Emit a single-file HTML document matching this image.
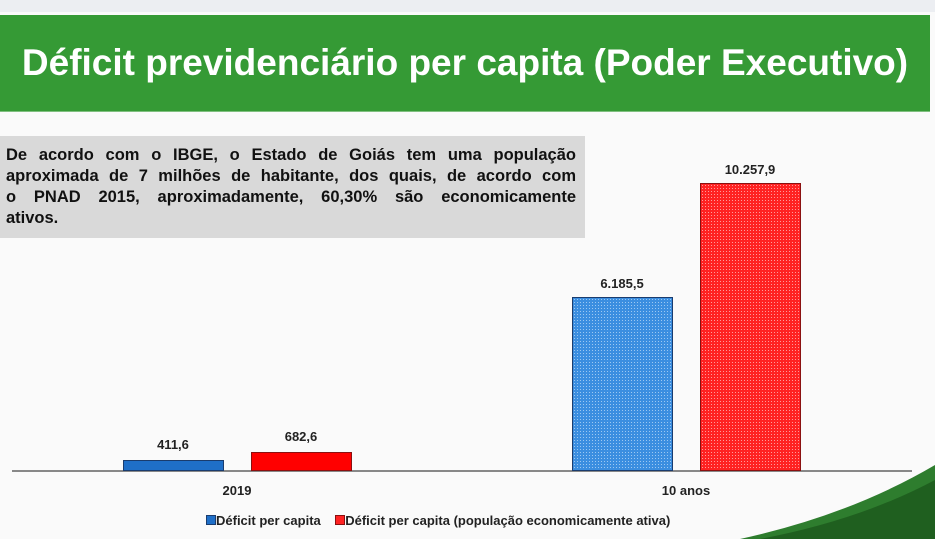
<!DOCTYPE html>
<html><head><meta charset="utf-8"><style>
body{margin:0;width:935px;height:539px;overflow:hidden;background:#fafafa;font-family:"Liberation Sans",sans-serif;position:relative}
.a{position:absolute}
.lbl{position:absolute;font-size:13px;color:#222;text-align:center;width:120px;font-weight:bold}
.blue{background:#1f6fc8;border:1px solid #1a3c6e;box-sizing:border-box}
.red{background:#f00;border:1px solid #8a1010;box-sizing:border-box}
.pb{background-color:#3b8ee0;background-image:radial-gradient(#9cc8f2 30%,transparent 35%);background-size:3px 3px}
.pr{background-color:#f22;background-image:radial-gradient(#ff9a9a 30%,transparent 35%);background-size:3px 3px}
.ln{width:570px;text-align:justify;text-align-last:justify;height:21px;white-space:nowrap}
</style></head><body>
<div class="a" style="left:0;top:0;width:935px;height:12px;background:#eceef2"></div>
<div class="a" style="left:0;top:15px;width:930px;height:96px;background:#359a35;border-bottom:1px solid #7fbf7f"></div>
<div class="a" style="left:0;top:42px;width:930px;text-align:center;color:#fff;font-size:37px;font-weight:bold;white-space:nowrap">Déficit previdenciário per capita (Poder Executivo)</div>
<div class="a" style="left:0;top:136px;width:585px;height:102px;background:#d9d9d9"></div>
<div class="a" style="left:6px;top:145px;font-size:16.5px;line-height:21px;color:#111;font-weight:bold">
<div class="ln">De acordo com o IBGE, o Estado de Goiás tem uma população</div>
<div class="ln">aproximada de 7 milhões de habitante, dos quais, de acordo com</div>
<div class="ln">o PNAD 2015, aproximadamente, 60,30% são economicamente</div>
<div>ativos.</div>
</div>
<div class="a" style="left:12px;top:470px;width:900px;height:2px;background:#888"></div>
<div class="a blue" style="left:123px;top:460px;width:101px;height:11px"></div>
<div class="a red" style="left:251px;top:452px;width:101px;height:19px"></div>
<div class="a blue pb" style="left:572px;top:297px;width:101px;height:174px"></div>
<div class="a red pr" style="left:700px;top:183px;width:101px;height:288px"></div>
<div class="lbl" style="left:113px;top:437px">411,6</div>
<div class="lbl" style="left:241px;top:429px">682,6</div>
<div class="lbl" style="left:562px;top:276px">6.185,5</div>
<div class="lbl" style="left:690px;top:162px">10.257,9</div>
<div class="lbl" style="left:177px;top:483px">2019</div>
<div class="lbl" style="left:626px;top:483px">10 anos</div>
<div class="a" style="left:206px;top:513px;font-size:13px;font-weight:bold;color:#222;white-space:nowrap"><span style="display:inline-block;width:8px;height:8px;background:#1f6fc8;border:1px solid #1a3c6e"></span>Déficit per capita &nbsp;&nbsp;&nbsp;<span style="display:inline-block;width:8px;height:8px;background:#f22;border:1px solid #8a1010"></span>Déficit per capita (população economicamente ativa)</div>
<svg class="a" style="left:0;top:0" width="935" height="539"><path d="M740 539 Q850 515 935 465 L935 539 Z" fill="#2e7d2e"/><path d="M760 539 Q860 520 935 480 L935 539Z" fill="#1f5f1f"/></svg>
</body></html>
